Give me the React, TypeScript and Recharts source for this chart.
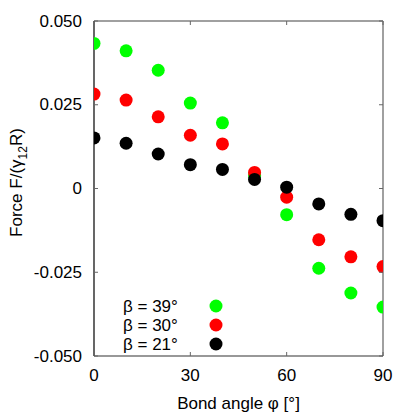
import React from "react";
import { ScatterChart, Scatter, XAxis, YAxis, ReferenceLine } from "recharts";

const phi = [0, 10, 20, 30, 40, 50, 60, 70, 80, 90];
const beta39 = [0.0433, 0.0411, 0.0353, 0.0255, 0.0196, 0.0039, -0.0078, -0.0238, -0.0312, -0.0354];
const beta30 = [0.0282, 0.0264, 0.0214, 0.0159, 0.0133, 0.0048, -0.0026, -0.0153, -0.0204, -0.0233];
const beta21 = [0.0151, 0.0135, 0.0103, 0.0071, 0.0057, 0.0027, 0.0004, -0.0046, -0.0077, -0.0096];
const seriesNames = ["β = 39°", "β = 30°", "β = 21°"];
const seriesColors = ["#00ff00", "#ff0000", "#000000"];
const xTicks = [0, 30, 60, 90];
const yTicks = [-0.05, -0.025, 0, 0.025, 0.05];

const W = 415;
const H = 415;
const LEFT = 94;
const RIGHT = 383;
const TOP = 21;
const BOTTOM = 356;
const FONT = "'Liberation Sans', Arial, Helvetica, sans-serif";
const FS = 17;
const TICK = 4;

const series = [beta39, beta30, beta21].map((vals) => vals.map((v, i) => ({ x: phi[i], y: v })));

const fmtY = (v: number) => (v === 0 ? "0" : v.toFixed(3));

function YTick(props: any) {
    const { x, y, payload } = props;
    return (
        <g>
            <line x1={LEFT} x2={LEFT + TICK} y1={y} y2={y} stroke="#666" />
            <line x1={RIGHT - TICK} x2={RIGHT} y1={y} y2={y} stroke="#666" />
            <text x={x} y={y} textAnchor="end" dominantBaseline="central" fontSize={FS} fontFamily={FONT} fill="#000">
                {fmtY(payload.value)}
            </text>
        </g>
    );
}

function XTick(props: any) {
    const { x, y, payload } = props;
    return (
        <g>
            <line x1={x} x2={x} y1={BOTTOM} y2={BOTTOM - TICK} stroke="#666" />
            <line x1={x} x2={x} y1={TOP} y2={TOP + TICK} stroke="#666" />
            <text x={x} y={y} textAnchor="middle" dy="0.71em" fontSize={FS} fontFamily={FONT} fill="#000">
                {payload.value}
            </text>
        </g>
    );
}

const dot = (props: any) => <circle cx={props.cx} cy={props.cy} r={6.5} fill={props.fill} />;

function LegendBox() {
    return (
        <svg width={110} height={62} style={{ position: "absolute", left: 120, top: 296, overflow: "visible" }}>
            {seriesNames.map((name, i) => (
                <g key={name}>
                    <text x={3} y={10 + i * 19} dominantBaseline="central" fontSize={FS} fontFamily={FONT} fill="#000">
                        {name}
                    </text>
                    <circle cx={96} cy={10 + i * 19} r={6.5} fill={seriesColors[i]} />
                </g>
            ))}
        </svg>
    );
}

export default function App() {
    return (
        <div style={{ position: "absolute", left: 0, top: 0, width: W, height: H, background: "#fff" }}>
            <ScatterChart width={W} height={H} margin={{ top: TOP, right: W - RIGHT, bottom: 0, left: 0 }}>
                <XAxis
                    type="number"
                    dataKey="x"
                    domain={[0, 90]}
                    ticks={xTicks}
                    interval={0}
                    height={H - BOTTOM}
                    tickSize={0}
                    tickMargin={13}
                    tick={<XTick />}
                    stroke="#333"
                    strokeWidth={1.2}
                    allowDataOverflow
                    label={{ value: "Bond angle φ [°]", position: "insideBottom", offset: 6, fontSize: FS, fontFamily: FONT, fill: "#000" }}
                />
                <YAxis
                    type="number"
                    dataKey="y"
                    domain={[-0.05, 0.05]}
                    ticks={yTicks}
                    interval={0}
                    width={LEFT}
                    tickSize={0}
                    tickMargin={12}
                    tick={<YTick />}
                    stroke="#000"
                    strokeWidth={1.2}
                    allowDataOverflow
                    label={{
                        content: () => (
                            <text
                                transform={`translate(22, ${(TOP + BOTTOM) / 2 - 6}) rotate(-90)`}
                                textAnchor="middle"
                                fontSize={FS}
                                fontFamily={FONT}
                                fill="#000"
                            >
                                Force F/(γ<tspan fontSize={12} dy={5}>12</tspan>
                                <tspan dy={-5}>R)</tspan>
                            </text>
                        ),
                    }}
                />
                <ReferenceLine y={0.05} stroke="#808080" strokeWidth={1.5} />
                <ReferenceLine x={90} stroke="#808080" strokeWidth={1.5} />
                {series.map((data, i) => (
                    <Scatter
                        key={seriesNames[i]}
                        name={seriesNames[i]}
                        data={data}
                        fill={seriesColors[i]}
                        shape={dot}
                        isAnimationActive={false}
                    />
                ))}
            </ScatterChart>
            <LegendBox />
        </div>
    );
}
